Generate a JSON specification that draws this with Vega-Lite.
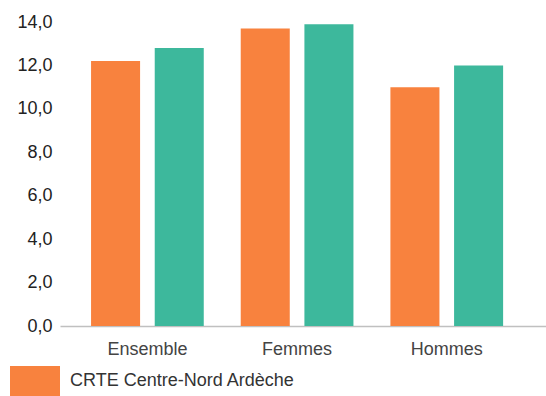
{
  "$schema": "https://vega.github.io/schema/vega-lite/v6.json",
  "width": 486,
  "height": 304,
  "autosize": {"type": "none"},
  "padding": {"left": 60, "top": 22, "right": 0, "bottom": 70},
  "background": "white",
  "config": {
    "view": {"stroke": null},
    "font": "Liberation Sans"
  },
  "data": {
    "values": [
      {"groupe": "Ensemble", "territoire": "CRTE Centre-Nord Ardèche", "valeur": 12.2},
      {"groupe": "Ensemble", "territoire": "Ardèche", "valeur": 12.8},
      {"groupe": "Femmes", "territoire": "CRTE Centre-Nord Ardèche", "valeur": 13.7},
      {"groupe": "Femmes", "territoire": "Ardèche", "valeur": 13.9},
      {"groupe": "Hommes", "territoire": "CRTE Centre-Nord Ardèche", "valeur": 11.0},
      {"groupe": "Hommes", "territoire": "Ardèche", "valeur": 12.0}
    ]
  },
  "mark": {"type": "bar"},
  "encoding": {
    "x": {
      "field": "groupe",
      "type": "nominal",
      "sort": ["Ensemble", "Femmes", "Hommes"],
      "scale": {"paddingInner": 0.247, "paddingOuter": 0.247, "align": 0.42},
      "axis": {
        "title": null,
        "labelAngle": 0,
        "ticks": false,
        "domainColor": "#c0c0c0",
        "domainWidth": 1.5,
        "labelFontSize": 18,
        "labelColor": "#444444",
        "labelPadding": 14
      }
    },
    "xOffset": {
      "field": "territoire",
      "type": "nominal",
      "sort": ["CRTE Centre-Nord Ardèche", "Ardèche"],
      "scale": {"paddingInner": 0.23}
    },
    "y": {
      "field": "valeur",
      "type": "quantitative",
      "scale": {"domain": [0, 14]},
      "axis": {
        "title": null,
        "grid": false,
        "domain": false,
        "ticks": false,
        "values": [0, 2, 4, 6, 8, 10, 12, 14],
        "format": ".1f",
        "labelExpr": "replace(datum.label, '.', ',')",
        "labelFontSize": 18,
        "labelColor": "#222222",
        "labelPadding": 8
      }
    },
    "color": {
      "field": "territoire",
      "type": "nominal",
      "sort": ["CRTE Centre-Nord Ardèche", "Ardèche"],
      "scale": {"domain": ["CRTE Centre-Nord Ardèche", "Ardèche"], "range": ["#F8823E", "#3DB89C"]},
      "legend": {
        "title": null,
        "orient": "none",
        "legendX": -50,
        "legendY": 334,
        "direction": "vertical",
        "values": ["CRTE Centre-Nord Ardèche"],
        "symbolType": "M-1,-0.6H1V0.6H-1Z",
        "symbolSize": 2500,
        "symbolStrokeWidth": 0,
        "labelFontSize": 18,
        "labelColor": "#333333",
        "labelOffset": 10,
        "labelLimit": 400
      }
    }
  }
}
